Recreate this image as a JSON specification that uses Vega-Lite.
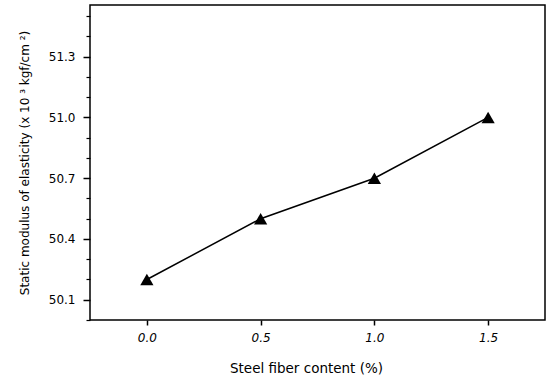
{
  "$schema": "https://vega.github.io/schema/vega-lite/v6.json",
  "width": 455,
  "height": 315,
  "autosize": {"type": "none"},
  "padding": {"left": 90, "top": 5, "right": 6, "bottom": 61},
  "background": "white",
  "config": {
    "font": "DejaVu Sans",
    "view": {"stroke": "black", "strokeWidth": 1.5},
    "axis": {"grid": false, "domain": false, "tickColor": "black", "labelColor": "black", "titleColor": "black", "titleFontWeight": "normal"}
  },
  "datasets": {
    "main": [
      {"fiber": 0.0, "modulus": 50.2},
      {"fiber": 0.5, "modulus": 50.5},
      {"fiber": 1.0, "modulus": 50.7},
      {"fiber": 1.5, "modulus": 51.0}
    ]
  },
  "data": {"name": "main"},
  "layer": [
    {
      "mark": {"type": "line", "color": "black", "strokeWidth": 1.5},
      "encoding": {
        "x": {
          "field": "fiber", "type": "quantitative",
          "scale": {"domain": [-0.25, 1.75], "nice": false, "zero": false},
          "axis": {"values": [0, 0.5, 1.0, 1.5], "format": ".1f", "title": "Steel fiber content (%)", "labelFontSize": 12, "labelFontStyle": "italic", "tickSize": 5, "tickWidth": 1.5, "labelPadding": 7, "titleFontSize": 13.5, "titlePadding": 18, "titleX": 216}
        },
        "y": {
          "field": "modulus", "type": "quantitative",
          "scale": {"domain": [50.0, 51.555], "nice": false, "zero": false},
          "axis": {"orient": "left", "values": [50.1, 50.4, 50.7, 51.0, 51.3], "format": ".1f", "title": "Static modulus of elasticity (x 10 ³ kgf/cm ²)", "labelFontSize": 12, "tickSize": 7, "tickWidth": 1.5, "labelPadding": 8, "titleFontSize": 12, "titlePadding": 17}
        }
      }
    },
    {
      "mark": {"type": "point", "shape": "triangle-up", "filled": true, "color": "black", "opacity": 1, "size": 175},
      "encoding": {
        "x": {"field": "fiber", "type": "quantitative"},
        "y": {
          "field": "modulus", "type": "quantitative",
          "axis": {"orient": "left", "values": [50.0, 50.2, 50.3, 50.5, 50.6, 50.8, 50.9, 51.1, 51.2, 51.4, 51.5], "labels": false, "title": null, "tickSize": 4, "tickWidth": 1.2}
        }
      }
    }
  ],
  "resolve": {"axis": {"y": "independent"}}
}
